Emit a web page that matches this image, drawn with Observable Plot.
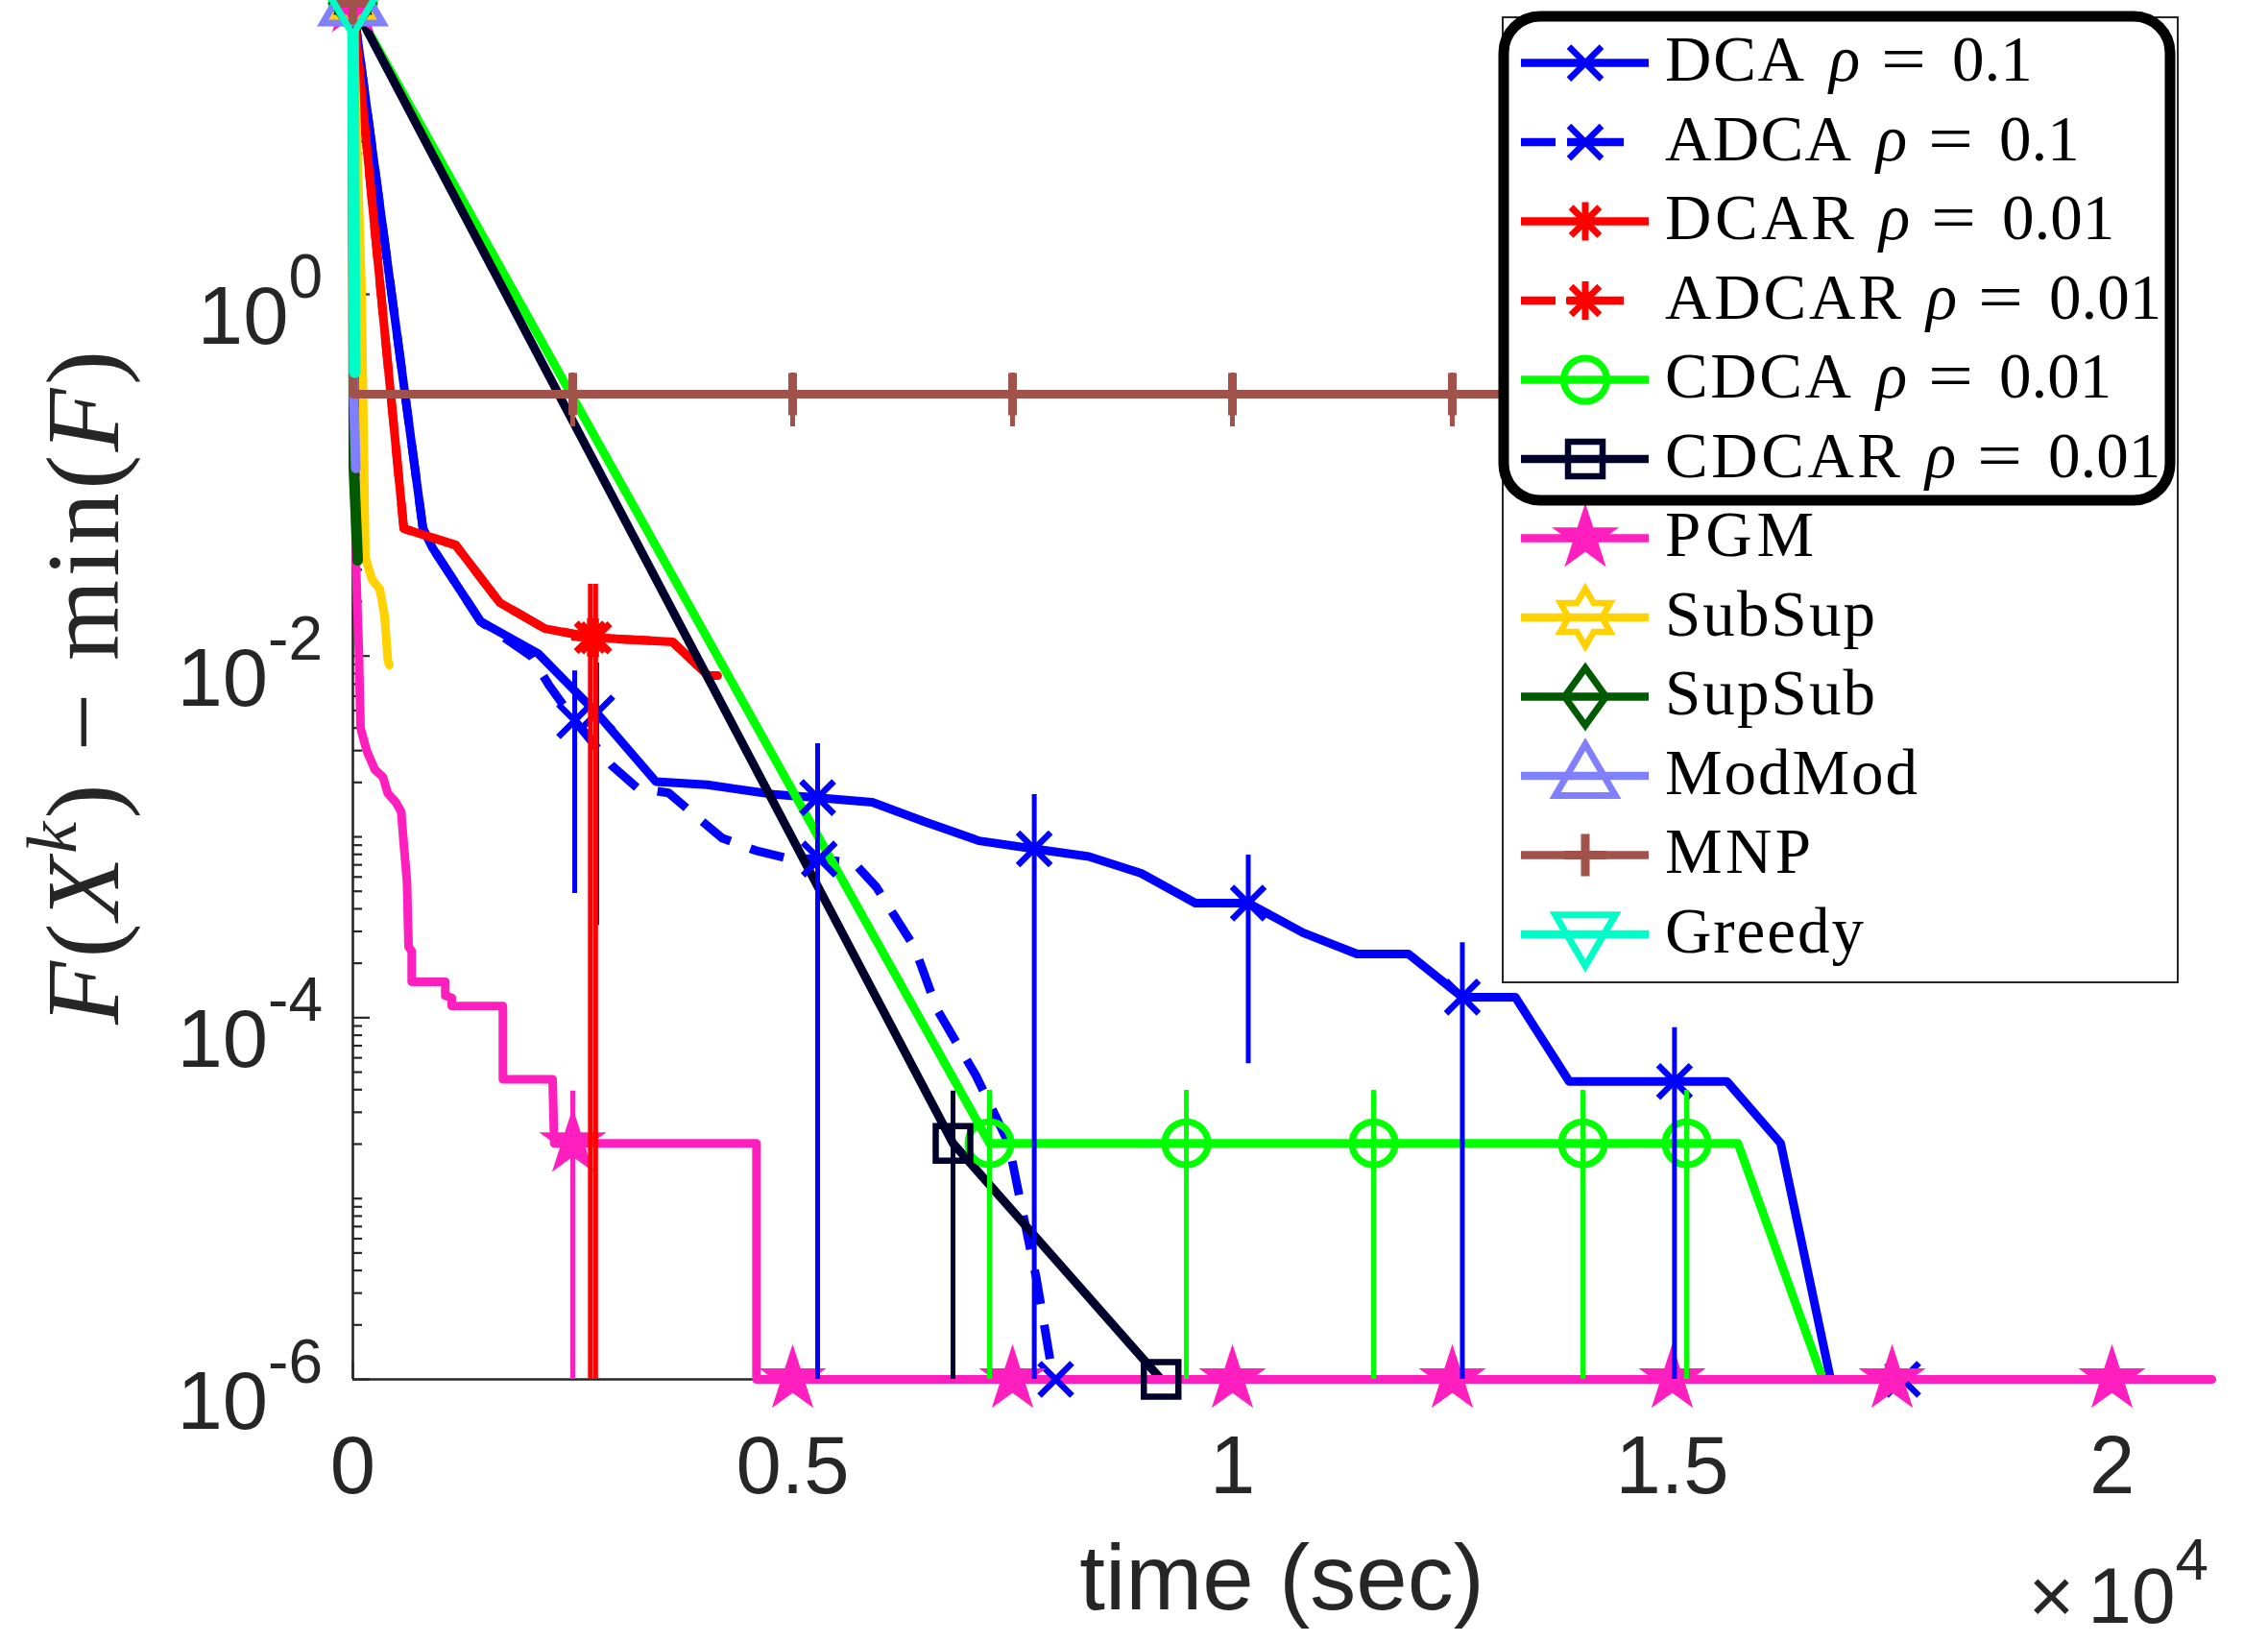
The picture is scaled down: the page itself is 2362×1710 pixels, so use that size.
<!DOCTYPE html>
<html>
<head>
<meta charset="utf-8">
<script src="https://cdn.jsdelivr.net/npm/d3@7"></script>
<script src="https://cdn.jsdelivr.net/npm/@observablehq/plot@0.6"></script>
<style>
  html, body { margin: 0; padding: 0; background: #fff; overflow: hidden; }
  #chart { position: relative; width: 2362px; height: 1710px; }
  #chart svg { position: absolute; left: 0; top: 0; }
</style>
</head>
<body>
<div id="chart"></div>
<script>
// ---------------- axes ----------------
const xMaxSec = 21135;           // right end of the time axis (sec)
const yLow = 1e-6;
const yHigh = 42.17;             // top of the log axis
const xTickValues = [0, 5000, 10000, 15000, 20000];
const xTickLabels = ["0", "0.5", "1", "1.5", "2"];
const yMajorTicks = [1e0, 1e-2, 1e-4, 1e-6];
const yTickExponents = ["0", "-2", "-4", "-6"];

// ---------------- DCA rho=0.1 ----------------
const dcaT = [0, 797, 906, 1452, 2107, 2773, 3444, 4028, 4782, 5284, 5906, 6493, 7118, 7747, 8367, 8963, 9578, 10180, 10803, 11417, 12001, 12614, 13216, 13829, 15026, 15622, 16233, 16801, 17620];
const dcaV = [40.6, 0.0506, 0.0396, 0.01552, 0.01032, 0.00484, 0.002023, 0.001941, 0.001718, 0.001648, 0.001552, 0.001215, 0.000951, 0.000859, 0.000778, 0.000628, 0.00043, 0.00043, 0.000295, 0.000225, 0.000225, 0.00013, 0.00013, 4.44e-5, 4.44e-5, 4.44e-5, 2.02e-5, 1e-6, 1e-6];
const dcaMarkT = [0, 2773, 5284, 7747, 10180, 12614, 15026, 17620];
const dcaMarkV = [40.6, 0.00484, 0.001648, 0.000859, 0.00043, 0.00013, 4.44e-5, 1e-6];
const dcaErrT = [2773, 5284, 7747, 10180, 12614, 15026];
const dcaErrLo = [0.000324, 1e-6, 1e-6, 5.57e-5, 1e-6, 1e-6];
const dcaErrHi = [0.00914, 0.003271, 0.001711, 0.000792, 0.00026, 8.81e-5];

// ---------------- ADCA rho=0.1 ----------------
const adcaT = [0, 797, 906, 1452, 2030, 2232, 2522, 2942, 3235, 3590, 3897, 4198, 4574, 4945, 5303, 5699, 5950, 6157, 6386, 6644, 6894, 7082, 7456, 7584, 7772, 7926, 7991];
const adcaV = [40.6, 0.0506, 0.0396, 0.01552, 0.00995, 0.00687, 0.00439, 0.00248, 0.00186, 0.00175, 0.001306, 0.000986, 0.000842, 0.00076, 0.000754, 0.000718, 0.000529, 0.000366, 0.000245, 0.0001106, 6.86e-5, 4.81e-5, 2.02e-5, 9.93e-6, 3.6e-6, 1.29e-6, 1e-6];
const adcaMarkT = [0, 2522, 5303, 7991];
const adcaMarkV = [40.6, 0.00439, 0.000754, 1e-6];
const adcaErrT = [2522];
const adcaErrLo = [0.000486];
const adcaErrHi = [0.00828];

// ---------------- DCAR / ADCAR rho=0.01 ----------------
const dcarT = [0, 579, 1168, 1670, 2183, 2700, 3635, 4039, 4148];
const dcarV = [40.6, 0.0506, 0.0411, 0.01973, 0.01419, 0.0127, 0.01197, 0.00779, 0.00779];
const dcarMarkT = [0, 2700];
const dcarMarkV = [40.6, 0.0127];
const dcarErrT = [2700];
const dcarErrLo = [1e-6];
const dcarErrHi = [0.0249];

const adcarT = [0, 579, 1168, 1670, 2183, 2760, 3635, 4039, 4148];
const adcarV = [40.6, 0.0506, 0.0411, 0.01973, 0.01419, 0.0126, 0.01197, 0.00779, 0.00779];
const adcarMarkT = [0, 2760];
const adcarMarkV = [40.6, 0.0126];
const adcarErrT = [2760];
const adcarErrLo = [1e-6];
const adcarErrHi = [0.0249];

// ---------------- CDCA / CDCAR rho=0.01 ----------------
const cdcaT = [0, 7238, 15747, 16713];
const cdcaV = [40.6, 2.02e-5, 2.02e-5, 1e-6];
const cdcaMarkT = [0, 7238, 9476, 11605, 13985, 15164];
const cdcaMarkV = [40.6, 2.02e-5, 2.02e-5, 2.02e-5, 2.02e-5, 2.02e-5];
const cdcaErrT = [7238, 9476, 11605, 13985, 15164];
const cdcaErrLo = [1e-6, 1e-6, 1e-6, 1e-6, 1e-6];
const cdcaErrHi = [3.96e-5, 3.96e-5, 3.96e-5, 3.96e-5, 3.96e-5];

const cdcarT = [0, 6823, 9189];
const cdcarV = [40.6, 2.02e-5, 1e-6];
const cdcarMarkT = [0, 6823, 9189];
const cdcarMarkV = [40.6, 2.02e-5, 1e-6];
const cdcarErrT = [6823];
const cdcarErrLo = [1e-6];
const cdcarErrHi = [3.93e-5];

// ---------------- PGM ----------------
const pgmT = [0, 33, 69, 87, 160, 251, 342, 396, 488, 549, 579, 615, 633, 669, 669, 1051, 1051, 1124, 1124, 1706, 1706, 2271, 2289, 4589, 4589, 21135];
const pgmV = [40.6, 0.0351, 0.01032, 0.004, 0.00297, 0.00235, 0.00214, 0.001746, 0.001552, 0.001377, 0.00091, 0.000566, 0.000247, 0.000233, 0.000158, 0.000158, 0.0001324, 0.0001285, 0.0001161, 0.0001161, 4.56e-5, 4.56e-5, 2.02e-5, 2.02e-5, 1e-6, 1e-6];
const pgmMarkT = [0, 2500, 5000, 7500, 10000, 12500, 15000, 17500, 20000];
const pgmMarkV = [40.6, 2.02e-5, 1e-6, 1e-6, 1e-6, 1e-6, 1e-6, 1e-6, 1e-6];
const pgmErrT = [2500];
const pgmErrLo = [1e-6];
const pgmErrHi = [3.93e-5];

// ---------------- SubSup / SupSub / ModMod ----------------
const subsupT = [0, 98, 142, 218, 306, 360, 398, 415];
const subsupV = [40.6, 1.076, 0.0351, 0.0265, 0.02343, 0.01683, 0.00948, 0.00891];
const supsubT = [0, 11, 55];
const supsubV = [40.6, 0.109, 0.0338];
const modmodT = [0, 11, 33];
const modmodV = [40.6, 0.2735, 0.109];

// ---------------- MNP ----------------
const mnpT = [0, 5, 17500];
const mnpV = [40.6, 0.2804, 0.2804];
const mnpMarkT = [0, 2500, 5000, 7500, 10000, 12500, 15000, 17500];
const mnpMarkV = [40.6, 0.2804, 0.2804, 0.2804, 0.2804, 0.2804, 0.2804, 0.2804];
const mnpErrT = [2500, 5000, 7500, 10000, 12500, 15000];
const mnpErrLo = [0.185, 0.185, 0.185, 0.185, 0.185, 0.185];
const mnpErrHi = [0.367, 0.367, 0.367, 0.367, 0.367, 0.367];

// ---------------- Greedy ----------------
const greedyT = [0, 22];
const greedyV = [40.6, 0.37];

// ---------------- legend text ----------------
const legendNames = ["DCA", "ADCA", "DCAR", "ADCAR", "CDCA", "CDCAR", "PGM", "SubSup", "SupSub", "ModMod", "MNP", "Greedy"];
const legendRho = ["0.1", "0.1", "0.01", "0.01", "0.01", "0.01", null, null, null, null, null, null];

// ================= helpers =================
const pts = (T, V) => T.map((t, i) => ({t, v: V[i]}));
const errs = (T, L, H) => T.map((t, i) => ({t, lo: L[i], hi: H[i]}));
const rad = s => Math.sqrt(s / Math.PI);
const symTimes = {draw(c, s) { const r = rad(s); c.moveTo(-r, -r); c.lineTo(r, r); c.moveTo(-r, r); c.lineTo(r, -r); }};
const symPlus = {draw(c, s) { const r = rad(s); c.moveTo(-r, 0); c.lineTo(r, 0); c.moveTo(0, -r); c.lineTo(0, r); }};
const symAsterisk = {draw(c, s) { const r = rad(s), q = r * 0.74; c.moveTo(-r, 0); c.lineTo(r, 0); c.moveTo(0, -r); c.lineTo(0, r); c.moveTo(-q, -q); c.lineTo(q, q); c.moveTo(-q, q); c.lineTo(q, -q); }};
const symCircle = {draw(c, s) { const r = rad(s); c.moveTo(r, 0); c.arc(0, 0, r, 0, 2 * Math.PI); c.closePath(); }};
const symSquare = {draw(c, s) { const r = rad(s); c.moveTo(-r, -r); c.lineTo(r, -r); c.lineTo(r, r); c.lineTo(-r, r); c.closePath(); }};
function starPath(c, R, ri, n) {
  for (let k = 0; k < 2 * n; k++) {
    const a = -Math.PI / 2 + k * Math.PI / n, rr = k % 2 ? ri : R;
    const x = rr * Math.cos(a), y = rr * Math.sin(a);
    if (k) c.lineTo(x, y); else c.moveTo(x, y);
  }
  c.closePath();
}
const symPentagram = {draw(c, s) { const R = rad(s); starPath(c, R, R * 0.382, 5); }};
const symHexagram = {draw(c, s) { const R = rad(s); starPath(c, R, R * 0.577, 6); }};
const symDiamond = {draw(c, s) { const r = rad(s), w = r * 0.72; c.moveTo(0, -r); c.lineTo(w, 0); c.lineTo(0, r); c.lineTo(-w, 0); c.closePath(); }};
const symTriUp = {draw(c, s) { const r = rad(s); c.moveTo(0, -r); c.lineTo(r * 0.95, r * 0.62); c.lineTo(-r * 0.95, r * 0.62); c.closePath(); }};
const symTriDown = {draw(c, s) { const r = rad(s); c.moveTo(0, r); c.lineTo(r * 0.95, -r * 0.62); c.lineTo(-r * 0.95, -r * 0.62); c.closePath(); }};

const DASH = "36,22";
const series = [
  {T: dcaT, V: dcaV, MT: dcaMarkT, MV: dcaMarkV, ET: dcaErrT, EL: dcaErrLo, EH: dcaErrHi, color: "#0000ff", dash: null, sym: symTimes, r: 17, sw: 6.5, fill: "none"},
  {T: adcaT, V: adcaV, MT: adcaMarkT, MV: adcaMarkV, ET: adcaErrT, EL: adcaErrLo, EH: adcaErrHi, color: "#0000ff", dash: DASH, sym: symTimes, r: 17, sw: 6.5, fill: "none"},
  {T: dcarT, V: dcarV, MT: dcarMarkT, MV: dcarMarkV, ET: dcarErrT, EL: dcarErrLo, EH: dcarErrHi, color: "#ff0000", dash: null, sym: symAsterisk, r: 20, sw: 7, fill: "none"},
  {T: adcarT, V: adcarV, MT: adcarMarkT, MV: adcarMarkV, ET: adcarErrT, EL: adcarErrLo, EH: adcarErrHi, color: "#ff0000", dash: DASH, sym: symAsterisk, r: 20, sw: 7, fill: "none"},
  {T: cdcaT, V: cdcaV, MT: cdcaMarkT, MV: cdcaMarkV, ET: cdcaErrT, EL: cdcaErrLo, EH: cdcaErrHi, color: "#00ff00", dash: null, sym: symCircle, r: 22.5, sw: 7, fill: "none"},
  {T: cdcarT, V: cdcarV, MT: cdcarMarkT, MV: cdcarMarkV, ET: cdcarErrT, EL: cdcarErrLo, EH: cdcarErrHi, color: "#00002d", dash: null, sym: symSquare, r: 18, sw: 6.5, fill: "none"},
  {T: pgmT, V: pgmV, MT: pgmMarkT, MV: pgmMarkV, ET: pgmErrT, EL: pgmErrLo, EH: pgmErrHi, color: "#ff1ebe", dash: null, sym: symPentagram, r: 32, sw: 3, fill: "#ff1ebe"},
  {T: subsupT, V: subsupV, MT: [0], MV: [40.6], ET: [], EL: [], EH: [], color: "#ffd200", dash: null, sym: symHexagram, r: 30, sw: 6.5, fill: "none"},
  {T: supsubT, V: supsubV, MT: [0], MV: [40.6], ET: [], EL: [], EH: [], color: "#005a00", dash: null, sym: symDiamond, r: 30, sw: 7, fill: "none"},
  {T: modmodT, V: modmodV, MT: [0], MV: [40.6], ET: [], EL: [], EH: [], color: "#8080ff", dash: null, sym: symTriUp, r: 33, sw: 7, fill: "none"},
  {T: mnpT, V: mnpV, MT: mnpMarkT, MV: mnpMarkV, ET: mnpErrT, EL: mnpErrLo, EH: mnpErrHi, color: "#a0524b", dash: null, sym: symPlus, r: 22, sw: 9, fill: "none"},
  {T: greedyT, V: greedyV, MT: [0], MV: [40.6], ET: [], EL: [], EH: [], color: "#00ffc8", dash: null, sym: symTriDown, r: 33, sw: 7, fill: "none"}
];
const lineW = [9, 9, 9, 9, 9, 9, 9, 9, 11, 10, 9, 12];

const W = 2362, H = 1710, mL = 367, mR = 59, mT = 0, mB = 274;
const frameW = W - mL - mR, frameH = H - mT - mB;
const AX = "#262626";
const SANS = "'Liberation Sans', Arial, Helvetica, sans-serif";
const SERIF = "'Liberation Serif', 'Times New Roman', serif";

const minorTicks = d3.scaleLog().domain([yLow, yHigh]).ticks().filter(v => !yMajorTicks.some(m => Math.abs(Math.log10(v) - Math.log10(m)) < 1e-9));

const marks = [
  Plot.tickY(minorTicks, {y: d => d, stroke: AX, strokeWidth: 2.2, insetRight: frameW - 10}),
  Plot.tickY(yMajorTicks, {y: d => d, stroke: AX, strokeWidth: 2.2, insetRight: frameW - 18}),
  Plot.tickX(xTickValues, {x: d => d, stroke: AX, strokeWidth: 2.2, insetTop: frameH - 18}),
  Plot.ruleX([0], {stroke: AX, strokeWidth: 2.6}),
  Plot.ruleY([yLow], {stroke: AX, strokeWidth: 2.6}),
  ...series.map((s, i) => Plot.line(pts(s.T, s.V), {x: "t", y: "v", stroke: s.color, strokeWidth: lineW[i], strokeDasharray: s.dash, strokeLinecap: s.dash ? "butt" : "round", strokeLinejoin: "round"})),
  ...series.map(s => Plot.dot(pts(s.MT, s.MV), {x: "t", y: "v", symbol: s.sym, r: s.r, stroke: s.color, strokeWidth: s.sw, fill: s.fill})),
  ...series.filter(s => s.ET.length).map(s => Plot.ruleX(errs(s.ET, s.EL, s.EH), {x: "t", y1: "lo", y2: "hi", stroke: s.color, strokeWidth: 5})),
  Plot.text(xTickValues, {x: d => d, text: (d, i) => xTickLabels[i], frameAnchor: "bottom", lineAnchor: "bottom", dy: 118, fontSize: 85, fontFamily: SANS, fill: AX})
];

const chart = Plot.plot({
  width: W, height: H,
  marginLeft: mL, marginRight: mR, marginTop: mT, marginBottom: mB,
  x: {domain: [0, xMaxSec], axis: null},
  y: {type: "log", domain: [yLow, yHigh], axis: null},
  style: {background: "white"},
  marks
});
document.getElementById("chart").append(chart);

const ys = chart.scale("y"), xs = chart.scale("x");
const svg = d3.select(chart);

// y tick labels 10^k
yMajorTicks.forEach((v, i) => {
  const y = ys.apply(v);
  const t = svg.append("text").attr("x", xs.apply(0) - 31).attr("y", y + 52)
    .attr("text-anchor", "end").attr("font-family", SANS).attr("font-size", 85).attr("fill", AX);
  t.append("tspan").text("10");
  t.append("tspan").attr("font-size", 64).attr("dy", -48).text(yTickExponents[i]);
});

// x axis label
svg.append("text").attr("x", (xs.apply(0) + xs.apply(xMaxSec)) / 2).attr("y", ys.apply(yLow) + 240)
  .attr("text-anchor", "middle").attr("font-family", SANS).attr("font-size", 96).attr("fill", AX).text("time (sec)");

// x10^4 exponent
{
  const t = svg.append("text").attr("x", xs.apply(xMaxSec) - 3).attr("y", ys.apply(yLow) + 254)
    .attr("text-anchor", "end").attr("font-family", SANS).attr("font-size", 82).attr("fill", AX);
  t.append("tspan").text("\u00d7");
  t.append("tspan").attr("dx", 14).text("10");
  t.append("tspan").attr("font-size", 62).attr("dy", -45).text("4");
}

// y axis label (rotated)
{
  const t = svg.append("text").attr("transform", `translate(123,${ys.apply(yLow) - 720}) rotate(-90)`)
    .attr("text-anchor", "middle").attr("font-family", SERIF).attr("font-size", 108).attr("fill", AX)
    .attr("textLength", 702).attr("lengthAdjust", "spacing");
  t.append("tspan").attr("font-style", "italic").text("F");
  t.append("tspan").text("(");
  t.append("tspan").attr("font-style", "italic").text("X");
  t.append("tspan").attr("font-style", "italic").attr("font-size", 74).attr("dy", -44).text("k");
  t.append("tspan").attr("dy", 44).text(") \u2212 min(");
  t.append("tspan").attr("font-style", "italic").text("F");
  t.append("tspan").text(")");
}

// ---------------- legend ----------------
const lg = d3.select("#chart").append("svg").attr("width", W).attr("height", H);
lg.append("rect").attr("x", 1565).attr("y", 18).attr("width", 703).attr("height", 1005)
  .attr("fill", "#fff").attr("stroke", AX).attr("stroke-width", 2);
const nameW = [145, 194, 197, 246, 194, 245, 155, 219, 219, 263, 152, 207];
series.forEach((s, i) => {
  const y = 65.6 + i * 82.5;
  const g = lg.append("g");
  const segs = s.dash ? [[1584, 1620], [1632, 1691]] : [[1584, 1717]];
  segs.forEach(([a, b]) => g.append("line").attr("x1", a).attr("x2", b).attr("y1", y).attr("y2", y)
    .attr("stroke", s.color).attr("stroke-width", 8.5));
  const p = d3.path();
  s.sym.draw(p, s.r * s.r * Math.PI);
  g.append("path").attr("d", p.toString()).attr("transform", `translate(1651,${y})`)
    .attr("stroke", s.color).attr("stroke-width", s.sw).attr("fill", s.fill);
  const ty = y + 18.5;
  g.append("text").attr("x", 1734).attr("y", ty).attr("font-family", SERIF).attr("font-size", 67)
    .attr("textLength", nameW[i]).attr("lengthAdjust", "spacing").text(legendNames[i]);
  if (legendRho[i]) {
    const xr = 1734 + nameW[i] + 26;
    g.append("text").attr("x", xr).attr("y", ty).attr("font-family", SERIF).attr("font-size", 67)
      .attr("font-style", "italic").text("\u03c1");
    g.append("text").attr("x", xr + 54).attr("y", ty).attr("font-family", SERIF).attr("font-size", 67)
      .attr("textLength", 47).attr("lengthAdjust", "spacingAndGlyphs").text("=");
    g.append("text").attr("x", xr + 128).attr("y", ty).attr("font-family", SERIF).attr("font-size", 67).text(legendRho[i]);
  }
});
lg.append("rect").attr("x", 1566).attr("y", 17).attr("width", 694).attr("height", 504).attr("rx", 38)
  .attr("fill", "none").attr("stroke", "#000").attr("stroke-width", 11);
</script>
</body>
</html>
